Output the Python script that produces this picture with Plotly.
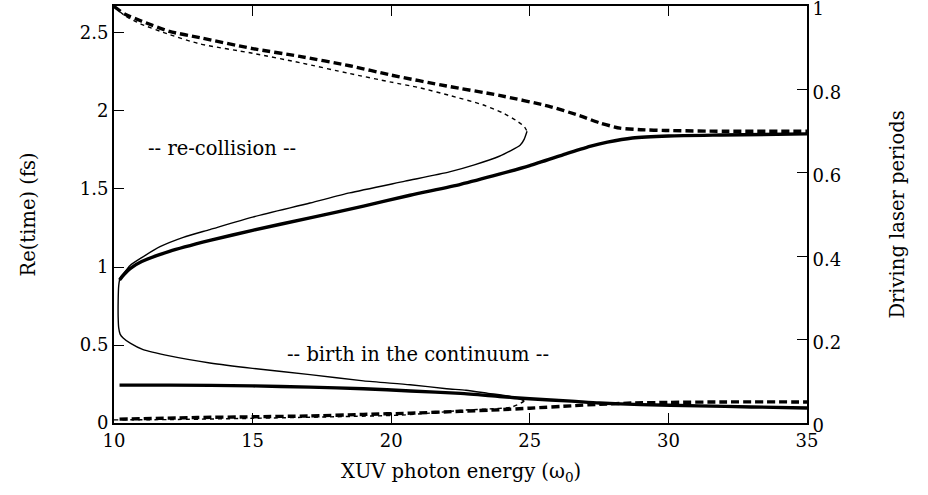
import plotly.graph_objects as go

# ---- data (x: XUV photon energy in units of omega_0, y: Re(time) in fs) ----
thick_dash_up_x = [10.0, 10.4, 10.94, 12.0, 13.1, 15.0, 16.7, 18.5, 20.0, 22.0, 23.9, 25.7, 26.8, 27.5, 28.25, 29.0, 29.9, 32.0, 35.0]
thick_dash_up_y = [2.67, 2.62, 2.58, 2.51, 2.47, 2.40, 2.35, 2.29, 2.23, 2.16, 2.10, 2.03, 1.97, 1.925, 1.89, 1.88, 1.875, 1.87, 1.87]

thin_dash_up_x = [10.0, 10.4, 10.94, 12.0, 13.1, 15.0, 16.7, 18.5, 20.0, 21.0, 22.1, 23.3, 24.0, 24.5, 24.8, 24.9]
thin_dash_up_y = [2.67, 2.61, 2.56, 2.49, 2.43, 2.37, 2.31, 2.24, 2.185, 2.15, 2.10, 2.04, 1.99, 1.94, 1.90, 1.87]

thin_solid_x = [24.9, 24.8, 24.65, 24.3, 23.9, 23.0, 22.1, 20.5, 18.5, 17.07, 15.0, 13.46, 12.5, 11.66, 11.0,
                10.58, 10.35, 10.22, 10.17, 10.15, 10.15, 10.17, 10.22, 10.33, 10.6, 11.05, 12.0, 13.46, 15.0,
                17.07, 19.0, 20.68, 22.0, 22.7, 23.5, 24.3, 24.7, 24.8]
thin_solid_y = [1.87, 1.82, 1.78, 1.745, 1.71, 1.655, 1.61, 1.55, 1.475, 1.41, 1.32, 1.24, 1.19, 1.13, 1.06,
                1.01, 0.96, 0.93, 0.88, 0.78, 0.68, 0.61, 0.57, 0.545, 0.51, 0.47, 0.43, 0.385, 0.35,
                0.31, 0.27, 0.245, 0.22, 0.21, 0.19, 0.17, 0.15, 0.14]

thin_dash_low_x = [24.8, 24.6, 24.3, 23.5, 22.7, 21.5, 20.3, 18.0, 15.0, 12.0, 10.0]
thin_dash_low_y = [0.14, 0.12, 0.10, 0.09, 0.083, 0.065, 0.05, 0.04, 0.03, 0.022, 0.02]

thick_dash_low_x = [10.2, 13.0, 15.0, 17.0, 19.0, 20.7, 22.5, 23.9, 25.0, 26.5, 27.5, 28.7, 30.0, 32.0, 35.0]
thick_dash_low_y = [0.025, 0.035, 0.04, 0.045, 0.055, 0.063, 0.075, 0.085, 0.095, 0.11, 0.12, 0.128, 0.132, 0.135, 0.135]

thick_solid_low_x = [10.2, 12.0, 15.0, 17.07, 19.0, 20.7, 22.5, 23.9, 25.0, 26.5, 27.5, 29.0, 31.1, 33.0, 35.0]
thick_solid_low_y = [0.243, 0.243, 0.238, 0.23, 0.22, 0.205, 0.19, 0.17, 0.155, 0.14, 0.128, 0.118, 0.11, 0.103, 0.096]

thick_solid_up_x = [10.2, 10.35, 10.58, 11.0, 12.0, 13.46, 15.0, 17.07, 19.0, 20.68, 22.5, 23.9, 25.0, 26.3, 27.2, 27.8, 28.7, 30.0, 31.9, 35.0]
thick_solid_up_y = [0.917, 0.95, 0.99, 1.035, 1.10, 1.17, 1.235, 1.315, 1.39, 1.46, 1.53, 1.595, 1.65, 1.725, 1.775, 1.80, 1.827, 1.84, 1.846, 1.853]

x_ticks = [10, 15, 20, 25, 30, 35]
y_ticks = [0, 0.5, 1, 1.5, 2, 2.5]
y2_ticks = [0, 0.2, 0.4, 0.6, 0.8, 1]
laser_period_fs = 2.673

FONT = "DejaVu Serif, Liberation Serif, serif"
BLACK = "#000000"
FS = 18      # tick labels
FT = 19.5    # titles and in-plot labels

fig = go.Figure()

def add(x, y, width, dash):
    fig.add_trace(go.Scatter(x=x, y=y, mode="lines",
                             line=dict(color=BLACK, width=width, dash=dash, shape="spline", smoothing=0.6),
                             showlegend=False, hoverinfo="skip"))

add(thin_solid_x, thin_solid_y, 1.4, "solid")
add(thin_dash_up_x, thin_dash_up_y, 1.4, "4px,4px")
add(thin_dash_low_x, thin_dash_low_y, 1.4, "4px,4px")
add(thick_solid_up_x, thick_solid_up_y, 3.4, "solid")
add(thick_solid_low_x, thick_solid_low_y, 3.4, "solid")
add(thick_dash_up_x, thick_dash_up_y, 3.4, "8px,4px")
add(thick_dash_low_x, thick_dash_low_y, 3.4, "8px,4px")

# invisible trace to carry the right-hand axis
fig.add_trace(go.Scatter(x=[10], y=[0], yaxis="y2", mode="markers",
                         marker=dict(opacity=0), showlegend=False, hoverinfo="skip"))

axis_common = dict(showgrid=False, zeroline=False, showline=True, linecolor=BLACK, linewidth=2,
                   ticks="inside", ticklen=10, tickwidth=1, tickcolor=BLACK,
                   ticklabeloverflow="allow", automargin=False,
                   tickfont=dict(family=FONT, size=FS, color=BLACK))

fig.update_layout(
    width=928, height=495,
    margin=dict(l=114, r=121, t=6, b=72, autoexpand=False),
    paper_bgcolor="white", plot_bgcolor="white",
    font=dict(family=FONT, size=FS, color=BLACK),
    xaxis=dict(range=[10, 35], tickvals=x_ticks, mirror="ticks", **axis_common),
    yaxis=dict(range=[0, laser_period_fs], tickvals=y_ticks, mirror=True, **axis_common),
    yaxis2=dict(range=[0, 1.0002], tickvals=y2_ticks, overlaying="y", side="right",
                ticklabelshift=3, **axis_common),
    annotations=[
        dict(text="-- re-collision --", x=13.9, y=1.76, xref="x", yref="y", showarrow=False,
             xanchor="center", yanchor="middle", font=dict(family=FONT, size=FT)),
        dict(text="-- birth in the continuum --", x=20.97, y=0.436, xref="x", yref="y", showarrow=False,
             xanchor="center", yanchor="middle", font=dict(family=FONT, size=FT)),
        dict(text="XUV photon energy (ω<sub>0</sub>)", x=0.5, y=-0.118, xref="paper", yref="paper",
             xanchor="center", yanchor="middle", showarrow=False, font=dict(family=FONT, size=FT)),
        dict(text="Re(time) (fs)", x=-0.1227, y=0.5, xref="paper", yref="paper", textangle=-90,
             xanchor="center", yanchor="middle", showarrow=False, font=dict(family=FONT, size=FT)),
        dict(text="Driving laser periods", x=1.13, y=0.5, xref="paper", yref="paper", textangle=-90,
             xanchor="center", yanchor="middle", showarrow=False, font=dict(family=FONT, size=FT)),
    ],
)

fig.write_html("out.html")
